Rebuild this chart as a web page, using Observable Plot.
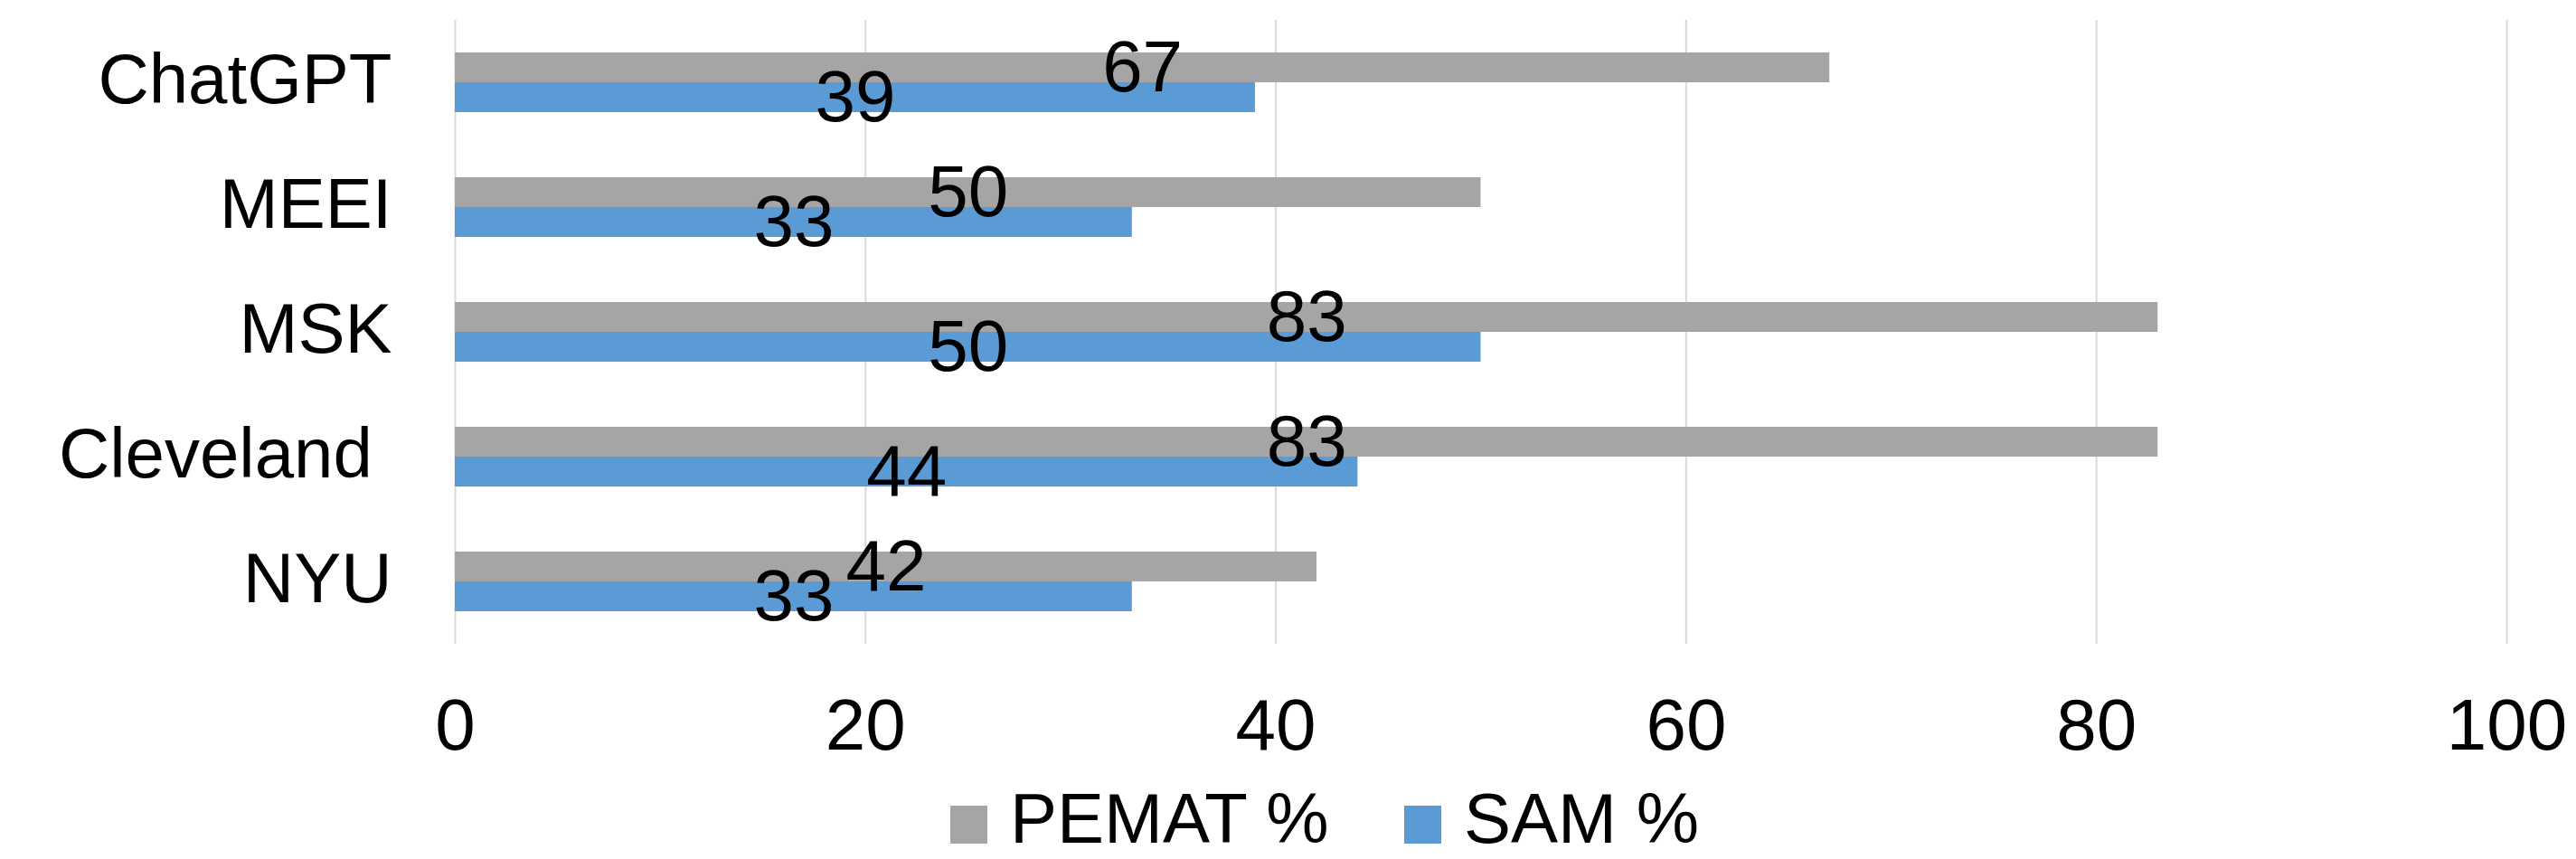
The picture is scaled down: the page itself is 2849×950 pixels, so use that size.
<!DOCTYPE html>
<html>
<head>
<meta charset="utf-8">
<script src="https://cdn.jsdelivr.net/npm/d3@7"></script>
<script src="https://cdn.jsdelivr.net/npm/@observablehq/plot@0.6"></script>
<style>
  html, body { margin: 0; padding: 0; background: #fff; }
  #chart svg { display: block; }
  #legend { display: block; }
</style>
</head>
<body>
<div id="chart"></div>
<div id="legendWrap"></div>
<script>
// ---- data ----
const categories = ["ChatGPT", "MEEI", "MSK", "Cleveland ", "NYU"];
const seriesNames = ["PEMAT %", "SAM %"];
const seriesColors = ["#A5A5A5", "#5B9BD5"];
const pematValues = [67, 50, 83, 83, 42];
const samValues = [39, 33, 50, 44, 33];
const xTicks = [0, 20, 40, 60, 80, 100];

const pemat = categories.map((c, i) => ({category: c, series: seriesNames[0], value: pematValues[i]}));
const sam = categories.map((c, i) => ({category: c, series: seriesNames[1], value: samValues[i]}));

const FONT = "'Liberation Sans', Arial, Helvetica, sans-serif";
const W = 2849, H = 830;

const chart = Plot.plot({
  width: W,
  height: H,
  marginLeft: 503,
  marginRight: 77,
  marginTop: 22,
  marginBottom: H - 712,
  style: {fontFamily: FONT, color: "#000", background: "#fff", overflow: "visible"},
  x: {domain: [0, 100]},
  y: {domain: categories, padding: 0},
  color: {domain: seriesNames, range: seriesColors},
  marks: [
    Plot.gridX(xTicks, {stroke: "#D9D9D9", strokeWidth: 2, strokeOpacity: 1}),
    Plot.barX(pemat, {x: "value", y: "category", fill: "series", insetTop: 36, insetBottom: 69}),
    Plot.barX(sam, {x: "value", y: "category", fill: "series", insetTop: 69, insetBottom: 36}),
    Plot.text(pemat, {x: d => d.value / 2, y: "category", text: d => String(d.value), dy: -16.5, fontSize: 80, fill: "#000"}),
    Plot.text(sam, {x: d => d.value / 2, y: "category", text: d => String(d.value), dy: 16.5, fontSize: 80, fill: "#000"}),
    Plot.axisX({ticks: xTicks, tickSize: 0, tickPadding: 60, fontSize: 80, label: null, tickFormat: d => String(d)}),
    Plot.axisY({tickSize: 0, tickPadding: 70, fontSize: 78, label: null, dy: -2, tickFormat: d => d.replace(/ $/, "\u00A0")})
  ]
});
document.getElementById("chart").appendChild(chart);

// ---- legend (below the chart) ----
const legendX = [1051, 1553];
const LH = 950 - H;
const lg = d3.select("#legendWrap").append("svg")
  .attr("id", "legend")
  .attr("width", W).attr("height", LH)
  .style("font-family", FONT);
seriesNames.forEach((name, i) => {
  lg.append("rect").attr("x", legendX[i]).attr("y", 61).attr("width", 41).attr("height", 42).attr("fill", seriesColors[i]);
  lg.append("text").attr("x", legendX[i] + 66).attr("y", 102).attr("font-size", 78).attr("fill", "#000").text(name);
});
</script>
</body>
</html>
